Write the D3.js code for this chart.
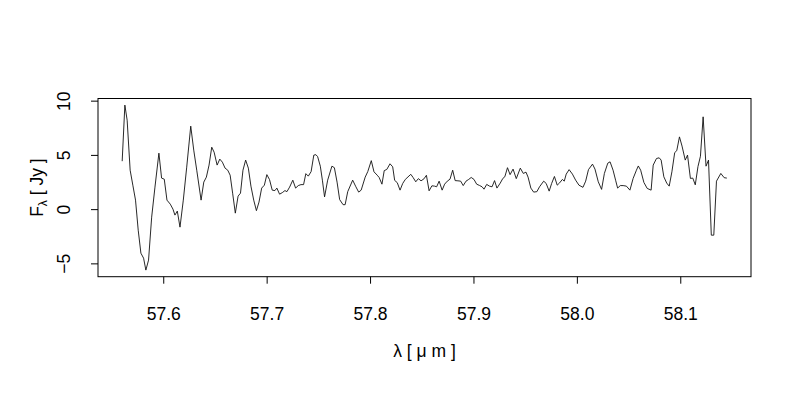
<!DOCTYPE html>
<html>
<head>
<meta charset="utf-8">
<script src="https://cdn.jsdelivr.net/npm/d3@7"></script>
<style>
  body { margin: 0; background: #fff; }
  svg { display: block; }
  text { font-family: "Liberation Sans", Arial, sans-serif; fill: #000; }
</style>
</head>
<body>
<svg width="800" height="400"></svg>
<script>
// wavelength (micron) and flux density (Jy)
const wavelength = [
  57.5603, 57.5629, 57.5651, 57.5680, 57.5706, 57.5732, 57.5758, 57.5784, 57.5810, 57.5832,
  57.5858, 57.5888, 57.5920, 57.5958, 57.5984, 57.6010, 57.6036, 57.6068, 57.6094, 57.6113,
  57.6136, 57.6162, 57.6194, 57.6227, 57.6266, 57.6295, 57.6324, 57.6366, 57.6392, 57.6417,
  57.6443, 57.6469, 57.6492, 57.6521, 57.6547, 57.6572, 57.6598, 57.6624, 57.6647, 57.6671,
  57.6697, 57.6724, 57.6747, 57.6771, 57.6797, 57.6823, 57.6848, 57.6875, 57.6901, 57.6926,
  57.6952, 57.6978, 57.7002, 57.7028, 57.7054, 57.7080, 57.7099, 57.7125, 57.7151, 57.7177,
  57.7196, 57.7222, 57.7253, 57.7280, 57.7306, 57.7332, 57.7357, 57.7379, 57.7403, 57.7430,
  57.7456, 57.7476, 57.7493, 57.7519, 57.7539, 57.7560, 57.7590, 57.7631, 57.7655, 57.7681,
  57.7706, 57.7739, 57.7759, 57.7784, 57.7832, 57.7863, 57.7890, 57.7914, 57.7953, 57.7978,
  57.8012, 57.8038, 57.8069, 57.8088, 57.8115, 57.8137, 57.8162, 57.8193, 57.8219, 57.8238,
  57.8263, 57.8290, 57.8316, 57.8341, 57.8394, 57.8416, 57.8442, 57.8467, 57.8493, 57.8521,
  57.8545, 57.8571, 57.8598, 57.8624, 57.8644, 57.8668, 57.8697, 57.8721, 57.8747, 57.8773,
  57.8799, 57.8823, 57.8850, 57.8876, 57.8901, 57.8928, 57.8954, 57.8978, 57.9005, 57.9031,
  57.9059, 57.9083, 57.9102, 57.9128, 57.9155, 57.9180, 57.9204, 57.9227, 57.9259, 57.9284,
  57.9303, 57.9329, 57.9354, 57.9383, 57.9414, 57.9453, 57.9482, 57.9508, 57.9528, 57.9555,
  57.9582, 57.9613, 57.9639, 57.9679, 57.9703, 57.9732, 57.9756, 57.9783, 57.9810, 57.9833,
  57.9860, 57.9878, 57.9897, 57.9925, 57.9957, 57.9988, 58.0020, 58.0059, 58.0085, 58.0112,
  58.0151, 58.0175, 58.0207, 58.0239, 58.0266, 58.0299, 58.0321, 58.0350, 58.0376, 58.0394,
  58.0420, 58.0447, 58.0479, 58.0513, 58.0544, 58.0576, 58.0594, 58.0617, 58.0648, 58.0680,
  58.0718, 58.0738, 58.0770, 58.0796, 58.0815, 58.0841, 58.0869, 58.0893, 58.0919, 58.0946,
  58.0966, 58.0992, 58.1017, 58.1048, 58.1070, 58.1098, 58.1121, 58.1145, 58.1171, 58.1195,
  58.1221, 58.1249, 58.1273, 58.1300, 58.1324, 58.1350, 58.1392, 58.1424, 58.1450
];

const flux = [
  4.42, 9.59, 8.20, 3.59, 2.21, 0.83, -1.94, -4.06, -4.52, -5.62,
  -4.70, -0.74, 2.03, 5.16, 2.86, 2.76, 0.83, 0.46, 0.00, -0.55,
  -0.18, -1.66, 0.83, 3.87, 7.65, 5.44, 3.59, 0.83, 2.49, 2.95,
  4.06, 5.71, 5.25, 4.06, 4.61, 4.33, 3.78, 3.59, 3.13, 1.47,
  -0.37, 1.20, 1.47, 3.59, 4.52, 3.78, 2.12, 0.83, -0.14, 0.65,
  1.94, 2.21, 3.18, 2.72, 1.75, 1.71, 1.94, 1.38, 1.52, 1.71,
  1.61, 2.03, 2.67, 1.94, 2.17, 2.26, 2.26, 3.27, 3.04, 3.46,
  4.98, 5.02, 4.84, 3.96, 2.67, 1.13, 2.67, 3.96, 3.82, 2.49,
  0.88, 0.41, 0.41, 1.61, 2.67, 2.06, 1.57, 1.75, 2.95, 3.46,
  4.47, 3.44, 3.13, 2.92, 2.30, 3.55, 3.66, 4.18, 3.90, 2.65,
  2.44, 1.75, 2.37, 2.74, 3.21, 2.92, 2.52, 2.81, 2.61, 2.79,
  3.12, 1.69, 2.15, 2.12, 2.06, 2.58, 1.75, 2.30, 2.58, 2.76,
  3.59, 2.63, 2.61, 2.58, 2.17, 2.58, 2.74, 2.92, 2.74, 2.30,
  2.18, 2.06, 1.84, 2.28, 2.12, 2.06, 2.63, 1.94, 2.40, 2.83,
  2.98, 3.82, 3.18, 3.69, 2.81, 3.78, 3.29, 3.41, 2.95, 1.94,
  1.57, 1.61, 2.06, 2.58, 2.37, 1.66, 2.37, 3.01, 2.21, 2.42,
  2.74, 2.58, 3.23, 3.64, 3.23, 2.67, 2.21, 2.01, 2.58, 3.64,
  4.15, 3.69, 2.52, 1.82, 3.29, 4.24, 4.36, 3.59, 2.61, 1.94,
  2.17, 2.17, 2.12, 1.75, 2.83, 3.59, 3.98, 3.59, 2.46, 1.91,
  1.75, 4.06, 4.67, 4.73, 4.52, 2.98, 2.40, 2.12, 3.44, 5.21,
  5.39, 6.66, 5.81, 4.52, 4.98, 2.83, 2.86, 2.24, 3.92, 4.88,
  8.51, 3.96, 4.52, -2.40, -2.40, 2.58, 3.29, 2.90, 2.86
];

const xTicks = [57.6, 57.7, 57.8, 57.9, 58.0, 58.1];
const yTicks = [-5, 0, 5, 10];

const data = wavelength.map((w, i) => ({ w, f: flux[i] }));

const svg = d3.select("svg");
const plot = { left: 98, right: 751, top: 98.5, bottom: 276.7 };

// R-style 4% padding around the data range
function padded(ext) {
  const d = (ext[1] - ext[0]) * 0.04;
  return [ext[0] - d, ext[1] + d];
}

const x = d3.scaleLinear()
  .domain(padded(d3.extent(wavelength)))
  .range([plot.left, plot.right]);

const y = d3.scaleLinear()
  .domain(padded(d3.extent(flux)))
  .range([plot.bottom, plot.top]);

const line = d3.line()
  .x(d => x(d.w))
  .y(d => y(d.f));

svg.append("path")
  .datum(data)
  .attr("fill", "none")
  .attr("stroke", "#111")
  .attr("stroke-width", 0.9)
  .attr("stroke-linejoin", "round")
  .attr("d", line);

// frame
svg.append("rect")
  .attr("x", plot.left)
  .attr("y", plot.top)
  .attr("width", plot.right - plot.left)
  .attr("height", plot.bottom - plot.top)
  .attr("fill", "none")
  .attr("stroke", "#000")
  .attr("stroke-width", 1);

const fs = 17.5;

const xAxis = svg.append("g")
  .attr("transform", `translate(0,${plot.bottom})`)
  .call(d3.axisBottom(x)
    .tickValues(xTicks)
    .tickFormat(d3.format(".1f"))
    .tickSize(7)
    .tickSizeOuter(0)
    .tickPadding(24));
xAxis.select(".domain").remove();
xAxis.selectAll("text").attr("font-size", fs).attr("font-family", null);

const yAxis = svg.append("g")
  .attr("transform", `translate(${plot.left},0)`)
  .call(d3.axisLeft(y)
    .tickValues(yTicks)
    .tickSize(7)
    .tickSizeOuter(0));
yAxis.select(".domain").remove();
yAxis.selectAll("text")
  .attr("font-size", fs)
  .attr("font-family", null)
  .attr("x", null)
  .attr("dy", null)
  .attr("text-anchor", "middle")
  .attr("transform", "translate(-28,0) rotate(-90)");

// axis titles
svg.append("text")
  .attr("x", (plot.left + plot.right) / 2)
  .attr("y", 357)
  .attr("text-anchor", "middle")
  .attr("font-size", fs)
  .text("λ [ μ m ]");

const yt = svg.append("text")
  .attr("transform", `translate(43,${(plot.top + plot.bottom) / 2}) rotate(-90)`)
  .attr("text-anchor", "middle")
  .attr("font-size", fs);
yt.append("tspan").text("F");
yt.append("tspan").attr("font-size", 12).attr("dy", 4).text("λ");
yt.append("tspan").attr("dy", -4).text(" [ Jy ]");
</script>
</body>
</html>
